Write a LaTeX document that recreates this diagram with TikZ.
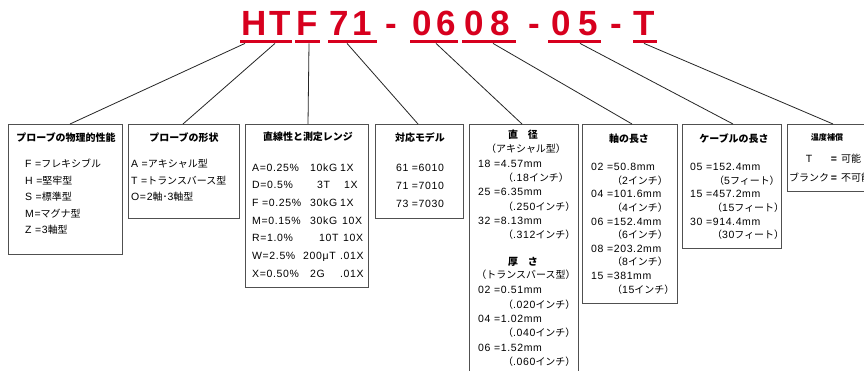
\documentclass[tikz,border=0pt]{standalone}
\usepackage{fontspec}
\usetikzlibrary{calc}
\setmainfont{Liberation Sans}[LetterSpace=6]
\newfontfamily\jpfont{Noto Sans CJK JP}[Scale=0.95]
\newfontfamily\titlefont{Liberation Sans}
\newcommand\J[1]{{\jpfont #1}}
\definecolor{titlered}{RGB}{215,0,30}
\definecolor{boxgray}{RGB}{80,80,80}
\begin{document}
\begin{tikzpicture}[x=1pt,y=-1pt,
  box/.style={draw=boxgray, line width=1.1pt, anchor=north west, inner sep=0pt},
  hd/.style={font=\jpfont\bfseries\fontsize{10.5}{12}\selectfont, inner sep=0pt, anchor=center, text height=7.5pt, text depth=0pt},
  tx/.style={font=\fontsize{10.5}{12}\selectfont, inner sep=0pt, anchor=west, text height=7.5pt, text depth=0pt},
  ul/.style={fill=titlered, inner sep=0pt, anchor=north west, minimum height=3pt},
  ch/.style={font=\titlefont\bfseries\fontsize{35}{40}\selectfont, text=titlered, anchor=base, inner sep=0pt},
  conn/.style={draw=black!85, line width=0.8pt}]
\useasboundingbox (0,0) rectangle (864,371);
\fill[white] (0,0) rectangle (864,371);

% title
\node[ch] (c1) at (254.5,35.5) {H};
\node[ch] (c2) at (280,35.5) {T};
\node[ch] (c3) at (307.5,35.5) {F};
\node[ch] (c4) at (339.5,35.5) {7};
\node[ch] (c5) at (362.5,35.5) {1};
\node[ch] (c6) at (391.5,35.5) {-};
\node[ch] (c7) at (422.5,35.5) {0};
\node[ch] (c8) at (446,35.5) {6};
\node[ch] (c9) at (474,35.5) {0};
\node[ch] (c10) at (500,35.5) {8};
\node[ch] (c11) at (534,35.5) {-};
\node[ch] (c12) at (561.5,35.5) {0};
\node[ch] (c13) at (588.5,35.5) {5};
\node[ch] (c14) at (616,35.5) {-};
\node[ch] (c15) at (644,35.5) {T};

% underlines
\node[ul, minimum width=52pt] (u1) at (240,40) {};
\node[ul, minimum width=25pt] (u2) at (295,40) {};
\node[ul, minimum width=49pt] (u3) at (328,40) {};
\node[ul, minimum width=48pt] (u4) at (410,40) {};
\node[ul, minimum width=54pt] (u5) at (462,40) {};
\node[ul, minimum width=53pt] (u6) at (548,40) {};
\node[ul, minimum width=24pt] (u7) at (633,40) {};

% boxes
\node[box, minimum width=114pt, minimum height=130pt] (b1) at (8,124) {};
\node[box, minimum width=111pt, minimum height=94pt] (b2) at (128,124) {};
\node[box, minimum width=123pt, minimum height=163pt] (b3) at (245,124) {};
\node[box, minimum width=88pt, minimum height=94pt] (b4) at (375,124) {};
\node[box, minimum width=109pt, minimum height=256pt] (b5) at (469,124) {};
\node[box, minimum width=95pt, minimum height=179pt] (b6) at (582,124) {};
\node[box, minimum width=99pt, minimum height=124pt] (b7) at (682,124) {};
\node[box, minimum width=100pt, minimum height=67pt] (b8) at (787,124) {};

% connectors
\draw[conn] ($(u1.south west)+(5,0)$) -- ($(b1.north west)+(62,0)$);
\draw[conn] ($(u1.south west)+(35,0)$) -- ($(b2.north west)+(55,0)$);
\draw[conn] ($(u2.south west)+(14,0)$) -- ($(b3.north west)+(63,0)$);
\draw[conn] ($(u3.south west)+(19,0)$) -- ($(b4.north west)+(43,0)$);
\draw[conn] ($(u4.south west)+(26,0)$) -- ($(b5.north west)+(53,0)$);
\draw[conn] ($(u5.south west)+(31,0)$) -- ($(b6.north west)+(50,0)$);
\draw[conn] ($(u6.south west)+(32,0)$) -- ($(b7.north west)+(51,0)$);
\draw[conn] ($(u7.south west)+(11,0)$) -- ($(b8.north west)+(46,0)$);

% box 1
\node[hd] (h1) at (66,138) {プローブの物理的性能};
\node[tx] (t11) at (25,164) {F =\J{フレキシブル}};
\node[tx] (t12) at (25,180.5) {H =\J{堅牢型}};
\node[tx] (t13) at (25,197) {S =\J{標準型}};
\node[tx] (t14) at (25,213.5) {M=\J{マグナ型}};
\node[tx] (t15) at (25,230) {Z =3\J{軸型}};

% box 2
\node[hd] (h2) at (184,138) {プローブの形状};
\node[tx] (t21) at (131,164) {A =\J{アキシャル型}};
\node[tx] (t22) at (131,180.5) {T =\J{トランスバース型}};
\node[tx] (t23) at (131,197) {O=2\J{軸･}3\J{軸型}};

% box 3
\node[hd] (h3) at (308,137) {直線性と測定レンジ};
\foreach \i/\a/\b/\bx/\c/\cx/\y in {
  1/A=0.25\%/10kG/310/1X/340/167.5,
  2/D=0.5\%/3T/317/1X/344/185,
  3/F =0.25\%/30kG/310/1X/340/203,
  4/M=0.15\%/30kG/310/10X/342/220.5,
  5/R=1.0\%/10T/319/10X/343/238,
  6/W=2.5\%/200μT/303/.01X/340/256,
  7/X=0.50\%/2G/310/.01X/340/273.5}{
  \node[tx] (t3\i a) at (252,\y) {\a};
  \node[tx] (t3\i b) at (\bx,\y) {\b};
  \node[tx] (t3\i c) at (\cx,\y) {\c};
}

% box 4
\node[hd] (h4) at (420,138) {対応モデル};
\node[tx, anchor=center] (t41) at (420,168) {61 =6010};
\node[tx, anchor=center] (t42) at (420,186) {71 =7010};
\node[tx, anchor=center] (t43) at (420,204) {73 =7030};

% box 5
\node[hd] (h5) at (523,135) {直　径};
\node[tx, anchor=center] (t50) at (526,149) {\J{（アキシャル型）}};
\node[tx] (t51) at (478,163.5) {18 =4.57mm};
\node[tx] (t52) at (503,178) {\J{（}.18\J{インチ）}};
\node[tx] (t53) at (478,192) {25 =6.35mm};
\node[tx] (t54) at (503,206.5) {\J{（}.250\J{インチ）}};
\node[tx] (t55) at (478,221) {32 =8.13mm};
\node[tx] (t56) at (503,235) {\J{（}.312\J{インチ）}};
\node[hd] (h5b) at (523,262) {厚　さ};
\node[tx, anchor=center] (t57) at (526,275) {\J{（トランスバース型）}};
\node[tx] (t58) at (478,290) {02 =0.51mm};
\node[tx] (t59) at (503,304.5) {\J{（}.020\J{インチ）}};
\node[tx] (t5a) at (478,319) {04 =1.02mm};
\node[tx] (t5b) at (503,333) {\J{（}.040\J{インチ）}};
\node[tx] (t5c) at (478,347.5) {06 =1.52mm};
\node[tx] (t5d) at (503,362) {\J{（}.060\J{インチ）}};

% box 6
\node[hd] (h6) at (629,139) {軸の長さ};
\node[tx] (t61) at (591,167) {02 =50.8mm};
\node[tx] (t62) at (612,180.6) {\J{（}2\J{インチ）}};
\node[tx] (t63) at (591,194.2) {04 =101.6mm};
\node[tx] (t64) at (612,207.8) {\J{（}4\J{インチ）}};
\node[tx] (t65) at (591,221.4) {06 =152.4mm};
\node[tx] (t66) at (612,235) {\J{（}6\J{インチ）}};
\node[tx] (t67) at (591,248.6) {08 =203.2mm};
\node[tx] (t68) at (612,262.2) {\J{（}8\J{インチ）}};
\node[tx] (t69) at (591,275.8) {15 =381mm};
\node[tx] (t6a) at (612,289.4) {\J{（}15\J{インチ）}};

% box 7
\node[hd] (h7) at (734,139) {ケーブルの長さ};
\node[tx] (t71) at (690,167) {05 =152.4mm};
\node[tx] (t72) at (714,180.6) {\J{（}5\J{フィート）}};
\node[tx] (t73) at (690,194.2) {15 =457.2mm};
\node[tx] (t74) at (712,207.8) {\J{（}15\J{フィート）}};
\node[tx] (t75) at (690,221.4) {30 =914.4mm};
\node[tx] (t76) at (712,235) {\J{（}30\J{フィート）}};

% box 8
\node[hd, font=\jpfont\bfseries\fontsize{8.5}{10}\selectfont] (h8) at (827,137) {温度補償};
\node[tx, anchor=center] (t81) at (809,159) {T};
\node[tx, anchor=center, font=\bfseries\fontsize{10.5}{12}\selectfont] (t82) at (834,159) {=};
\node[tx] (t83) at (841,159) {\J{可能}};
\node[tx] (t84) at (789,178) {\J{ブランク}};
\node[tx, anchor=center, font=\bfseries\fontsize{10.5}{12}\selectfont] (t85) at (834,178) {=};
\node[tx] (t86) at (841,178) {\J{不可能}};
\end{tikzpicture}
\end{document}
